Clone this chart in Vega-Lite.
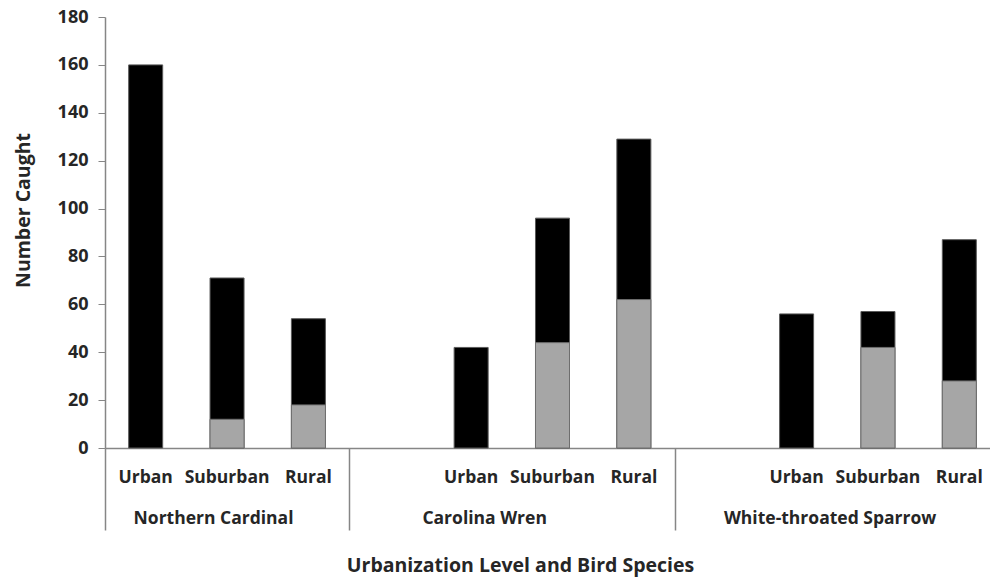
{
  "$schema": "https://vega.github.io/schema/vega-lite/v6.json",
  "width": 885,
  "height": 431,
  "autosize": {"type": "none"},
  "padding": {"left": 105, "top": 17, "right": 0, "bottom": 132},
  "background": "white",
  "config": {"view": {"stroke": null}, "font": "Open Sans"},
  "data": {
    "values": [
      {"slot": "Northern Cardinal|Urban", "gray": 0, "total": 160},
      {"slot": "Northern Cardinal|Suburban", "gray": 12, "total": 71},
      {"slot": "Northern Cardinal|Rural", "gray": 18, "total": 54},
      {"slot": "Carolina Wren|Urban", "gray": 0, "total": 42},
      {"slot": "Carolina Wren|Suburban", "gray": 44, "total": 96},
      {"slot": "Carolina Wren|Rural", "gray": 62, "total": 129},
      {"slot": "White-throated Sparrow|Urban", "gray": 0, "total": 56},
      {"slot": "White-throated Sparrow|Suburban", "gray": 42, "total": 57},
      {"slot": "White-throated Sparrow|Rural", "gray": 28, "total": 87}
    ]
  },
  "layer": [
    {
      "mark": {"type": "bar", "color": "#000000", "stroke": "#5a5a5a", "strokeWidth": 1},
      "encoding": {
        "x": {
          "field": "slot", "type": "ordinal",
          "scale": {
            "domain": ["Northern Cardinal|Urban", "Northern Cardinal|Suburban", "Northern Cardinal|Rural", "Carolina Wren|", "Carolina Wren|Urban", "Carolina Wren|Suburban", "Carolina Wren|Rural", "White-throated Sparrow|", "White-throated Sparrow|Urban", "White-throated Sparrow|Suburban", "White-throated Sparrow|Rural"],
            "range": [0, 895],
            "paddingInner": 0.582,
            "paddingOuter": 0.291
          },
          "axis": {
            "orient": "bottom",
            "title": null,
            "domainColor": "#868686",
            "domainWidth": 1.5,
            "ticks": false,
            "labelAngle": 0,
            "labelExpr": "split(datum.value, '|')[1]",
            "labelFont": "Open Sans",
            "labelFontSize": 17.5,
            "labelFontWeight": "bold",
            "labelColor": "#262626",
            "labelPadding": 20
          }
        },
        "y": {
          "field": "total", "type": "quantitative",
          "scale": {"domain": [0, 180], "nice": false},
          "title": "Number Caught",
          "axis": {
            "tickCount": 9,
            "grid": false,
            "domainColor": "#868686",
            "domainWidth": 1.5,
            "tickColor": "#868686",
            "tickSize": 7,
            "labelPadding": 10,
            "labelFont": "Open Sans",
            "labelFontSize": 18,
            "labelFontWeight": "bold",
            "labelColor": "#262626",
            "titleFont": "Open Sans",
            "titleFontSize": 19.5,
            "titleFontWeight": "bold",
            "titleColor": "#262626",
            "titleAngle": -90,
            "titleBaseline": "middle",
            "titleAlign": "center",
            "titleX": -82,
            "titleY": 193
          }
        }
      }
    },
    {
      "transform": [{"filter": "datum.gray > 0"}],
      "mark": {"type": "bar", "color": "#a6a6a6", "stroke": "#6e6e6e", "strokeWidth": 1},
      "encoding": {
        "x": {
          "field": "slot", "type": "ordinal",
          "axis": {
            "orient": "bottom",
            "title": "Urbanization Level and Bird Species",
            "domain": false,
            "ticks": true,
            "bandPosition": 0,
            "tickOffset": -23.7,
            "tickSize": 82,
            "tickWidth": 1.5,
            "tickColor": "#868686",
            "tickOpacity": {"condition": {"test": "datum.value === 'Northern Cardinal|Urban' || datum.value === 'Carolina Wren|' || datum.value === 'White-throated Sparrow|'", "value": 1}, "value": 0},
            "labelAngle": 0,
            "labelLimit": 400,
            "labelExpr": "datum.value === 'Northern Cardinal|Suburban' ? 'Northern Cardinal' : datum.value === 'Carolina Wren|Urban' ? 'Carolina Wren' : datum.value === 'White-throated Sparrow|Urban' ? 'White-throated Sparrow' : ''",
            "labelOffset": {"condition": [{"test": "datum.value === 'Northern Cardinal|Suburban'", "value": 9.7}, {"test": "datum.value === 'Carolina Wren|Urban'", "value": 36.7}], "value": 56.7},
            "labelFont": "Open Sans",
            "labelFontSize": 17.5,
            "labelFontWeight": "bold",
            "labelColor": "#262626",
            "labelPadding": -21,
            "titleFont": "Open Sans",
            "titleFontSize": 19.5,
            "titleFontWeight": "bold",
            "titleColor": "#262626",
            "titleBaseline": "alphabetic",
            "titleAlign": "center",
            "titleX": 415,
            "titleY": 123
          }
        },
        "y": {
          "field": "gray", "type": "quantitative",
          "title": "Number Caught"
        }
      }
    }
  ],
  "resolve": {"axis": {"x": "independent"}}
}
